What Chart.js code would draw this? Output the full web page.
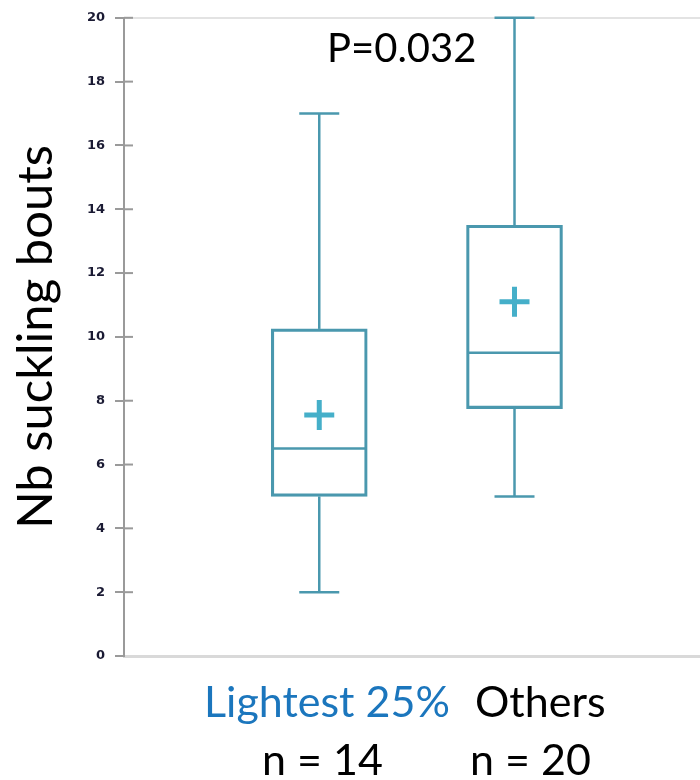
<!DOCTYPE html>
<html>
<head>
<meta charset="utf-8">
<title>Nb suckling bouts</title>
<script src="https://cdn.jsdelivr.net/npm/chart.js@4.4.1/dist/chart.umd.min.js"></script>
<style>
    html, body { margin: 0; background: #fff; overflow: hidden; width: 700px; height: 780px; }
    body { position: relative; font-family: Lato, "Noto Sans", sans-serif; }
    #wrap { position: absolute; left: 0; top: 0; width: 700px; height: 780px; }
    .lbl { position: absolute; white-space: nowrap; line-height: 1; font-size: 43px; color: #000; }
</style>
</head>
<body>
<div id="wrap"><canvas id="box-chart"></canvas></div>
<div class="lbl" id="p-value" style="left:327px; top:27px; font-size:40px;"></div>
<div class="lbl" id="group-0" style="left:204px; top:679px; color:#1b76bd;"></div>
<div class="lbl" id="group-1" style="left:475px; top:679px;"></div>
<div class="lbl" id="count-0" style="left:262px; top:737px;"></div>
<div class="lbl" id="count-1" style="left:470px; top:737px;"></div>
<script>
// values
const groups = ['Lightest 25%', 'Others'];
const groupCounts = [14, 20];
const whiskerLow = [2, 5];
const quartile1 = [5, 7.75];
const medians = [6.5, 9.5];
const quartile3 = [10.25, 13.5];
const whiskerHigh = [17, 20];
const means = [7.55, 11.1];
const yTicks = [0, 2, 4, 6, 8, 10, 12, 14, 16, 18, 20];
const pValueText = 'P=0.032';

const BOX_COLOR = '#4a98ae';
const MEAN_COLOR = '#45afc9';
const AXIS_GREY = '#9a9a9a';
const BOX_WIDTH = 96;
const CAP_HALF = 20;

// whiskers, caps, medians and the inner half of the y tick marks
const boxExtras = {
    id: 'boxExtras',
    afterDatasetsDraw(chart) {
        const ctx = chart.ctx;
        const xs = chart.scales.x;
        const ys = chart.scales.y;
        ctx.save();
        ctx.strokeStyle = BOX_COLOR;
        ctx.lineWidth = 2.5;
        groups.forEach((g, i) => {
            const cx = xs.getPixelForValue(i + 1);
            const seg = (x1, v1, x2, v2) => {
                ctx.beginPath();
                ctx.moveTo(x1, ys.getPixelForValue(v1));
                ctx.lineTo(x2, ys.getPixelForValue(v2));
                ctx.stroke();
            };
            seg(cx, whiskerLow[i], cx, quartile1[i]);
            seg(cx, quartile3[i], cx, whiskerHigh[i]);
            seg(cx - CAP_HALF, whiskerLow[i], cx + CAP_HALF, whiskerLow[i]);
            seg(cx - CAP_HALF, whiskerHigh[i], cx + CAP_HALF, whiskerHigh[i]);
            seg(cx - BOX_WIDTH / 2 + 1, medians[i], cx + BOX_WIDTH / 2 - 1, medians[i]);
        });
        // tick marks cross the axis line
        ctx.strokeStyle = AXIS_GREY;
        ctx.lineWidth = 2;
        yTicks.forEach(v => {
            if (v === 0) return;
            const py = ys.getPixelForValue(v);
            ctx.beginPath();
            ctx.moveTo(ys.right, py);
            ctx.lineTo(ys.right + 9, py);
            ctx.stroke();
        });
        ctx.restore();
    }
};

const ctx = document.getElementById('box-chart').getContext('2d');
new Chart(ctx, {
    data: {
        datasets: [{
            type: 'bar',
            label: 'IQR',
            data: groups.map((g, i) => ({ x: i + 1, y: [quartile1[i], quartile3[i]] })),
            backgroundColor: 'rgba(255,255,255,0)',
            borderColor: BOX_COLOR,
            borderWidth: 2.5,
            borderSkipped: false,
            barThickness: BOX_WIDTH
        }, {
            type: 'scatter',
            label: 'Mean',
            data: groups.map((g, i) => ({ x: i + 1, y: means[i] })),
            pointStyle: 'cross',
            pointRadius: 15,
            borderWidth: 5,
            borderColor: MEAN_COLOR
        }]
    },
    options: {
        responsive: true,
        maintainAspectRatio: false,
        animation: false,
        layout: { autoPadding: false, padding: { top: 16, right: 0, bottom: 124, left: 0 } },
        plugins: {
            legend: { display: false },
            tooltip: { enabled: false }
        },
        scales: {
            x: {
                type: 'linear',
                min: 0,
                max: 2.95,
                offset: false,
                ticks: { display: false },
                grid: { display: false },
                border: { color: '#d9d9d9', width: 3 },
                afterFit: (s) => { s.height = 0; }
            },
            y: {
                min: 0,
                max: 20,
                afterBuildTicks: (s) => { s.ticks = yTicks.map(v => ({ value: v })); },
                ticks: {
                    color: '#1a1a33',
                    padding: 10,
                    font: { family: 'DejaVu Sans', size: 13, weight: 'bold' }
                },
                grid: {
                    color: (c) => (c.tick && c.tick.value === 20 ? '#e3e3e3' : 'rgba(0,0,0,0)'),
                    tickColor: AXIS_GREY,
                    tickLength: 9,
                    lineWidth: 2
                },
                border: { color: AXIS_GREY, width: 2 },
                title: {
                    display: true,
                    text: 'Nb suckling bouts',
                    color: '#000',
                    font: { family: 'Lato', size: 49 },
                    padding: { top: 7, bottom: 0 }
                },
                afterFit: (s) => { s.width = 124; }
            }
        }
    },
    plugins: [boxExtras]
});

document.getElementById('p-value').textContent = pValueText;
groups.forEach((g, i) => {
    document.getElementById('group-' + i).textContent = g;
    document.getElementById('count-' + i).textContent = 'n = ' + groupCounts[i];
});
</script>
</body>
</html>
